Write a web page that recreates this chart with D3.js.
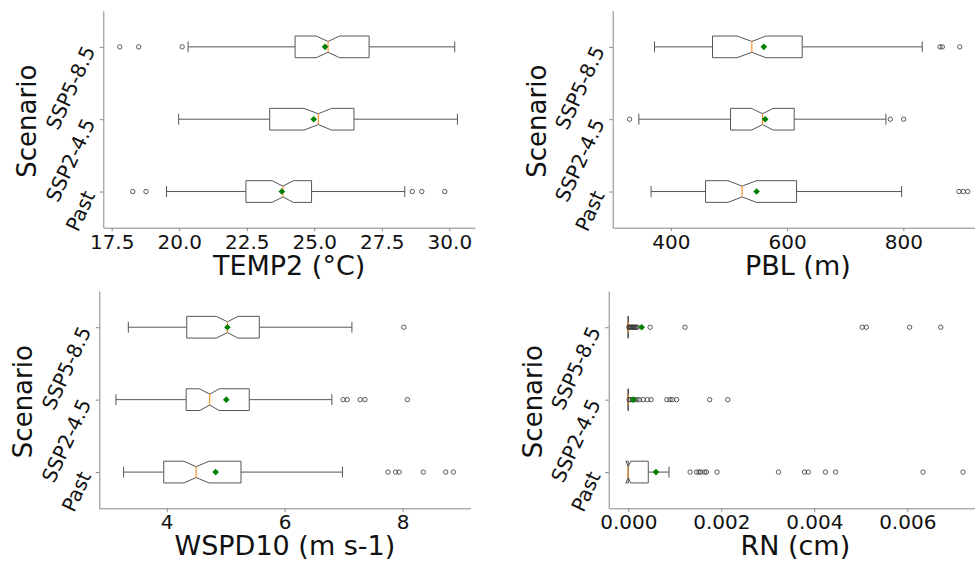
<!DOCTYPE html>
<html>
<head>
<meta charset="utf-8">
<script src="https://cdn.jsdelivr.net/npm/d3@7"></script>
<style>
  body { margin: 0; background: #fff; }
  svg { display: block; }
</style>
</head>
<body>
<svg id="chart" width="975" height="563"></svg>
<script>
// scenarios, bottom to top
var scenarios = ["Past", "SSP2-4.5", "SSP5-8.5"];

// box stats per scenario: [whisLo, q1, notchLo, median, notchHi, q3, whisHi, mean]
var temp2Stats = [
    [19.53, 22.47, 23.44, 23.84, 24.23, 24.90, 28.35, 23.80],
    [19.98, 23.35, 24.62, 25.15, 25.64, 26.47, 30.30, 24.98],
    [20.33, 24.29, 25.07, 25.51, 25.94, 27.03, 30.20, 25.40]
];
var temp2Fliers = [[18.28, 18.77, 28.63, 28.98, 29.83], [], [17.80, 18.50, 20.11]];
var temp2Ticks = [17.5, 20.0, 22.5, 25.0, 27.5, 30.0];
var temp2Limits = [17.19, 30.95];

var pblStats = [
    [366, 459.7, 498, 522.7, 547.5, 616.3, 797, 547.5],
    [345, 502.7, 538.8, 557.8, 576, 612.2, 770, 562.3],
    [371.9, 471.7, 514, 539.4, 563.5, 626, 832.5, 560]
];
var pblFliers = [[895.7, 903, 910.7], [329, 777.5, 800.5], [863, 867, 897]];
var pblTicks = [400, 600, 800];
var pblLimits = [300, 937];

var wspdStats = [
    [3.27, 3.95, 4.29, 4.50, 4.72, 5.26, 6.98, 4.83],
    [3.14, 4.33, 4.56, 4.73, 4.89, 5.40, 6.80, 5.01],
    [3.35, 4.34, 4.84, 5.03, 5.21, 5.57, 7.14, 5.03]
];
var wspdFliers = [
    [7.75, 7.88, 7.94, 8.35, 8.73, 8.86],
    [6.99, 7.06, 7.28, 7.36, 8.08],
    [8.02]
];
var wspdTicks = [4, 6, 8];
var wspdLimits = [2.858, 9.15];

var rnStats = [
    [0, 0, -0.00005, 0, 0.00005, 0.00043, 0.000875, 0.000596],
    [0, 0, 0, 0, 0, 0, 0, 0.000108],
    [0, 0, 0, 0, 0, 0, 0, 0.000288]
];
var rnFliers = [
    [0.00133, 0.00147, 0.00152, 0.00156, 0.00164, 0.00168, 0.00191, 0.00323, 0.00379,
     0.00387, 0.00424, 0.00446, 0.00634, 0.00720],
    [0.00002, 0.00005, 0.00009, 0.00014, 0.00019, 0.00024, 0.00032, 0.00041, 0.00049,
     0.00083, 0.00090, 0.00095, 0.00104, 0.00175, 0.00214],
    [0.00001, 0.00003, 0.00005, 0.00007, 0.00009, 0.00011, 0.00013, 0.00015, 0.00017,
     0.00020, 0.00047, 0.00122, 0.00503, 0.00512, 0.00605, 0.00672]
];
var rnTicks = [0.000, 0.002, 0.004, 0.006];
var rnLimits = [-0.000421, 0.007607];

var panels = [
    {stats: temp2Stats, fliers: temp2Fliers, ticks: temp2Ticks, limits: temp2Limits, fmt: ".1f",
     label: "TEMP2 (°C)", left: 103.3, right: 475, top: 10.7, bottom: 227.7},
    {stats: pblStats, fliers: pblFliers, ticks: pblTicks, limits: pblLimits, fmt: "d",
     label: "PBL (m)", left: 612.7, right: 983, top: 10.7, bottom: 227.7},
    {stats: wspdStats, fliers: wspdFliers, ticks: wspdTicks, limits: wspdLimits, fmt: "d",
     label: "WSPD10 (m s-1)", left: 99.3, right: 470.5, top: 291, bottom: 508.3},
    {stats: rnStats, fliers: rnFliers, ticks: rnTicks, limits: rnLimits, fmt: ".3f",
     label: "RN (cm)", left: 608.7, right: 982, top: 291, bottom: 508.3}
];

var svg = d3.select("#chart");
var boxColor = "#555", spineColor = "#888";
var font = "'DejaVu Sans', Verdana, sans-serif";

panels.forEach(function (p) {
    var x = d3.scaleLinear().domain(p.limits).range([p.left, p.right]);
    var y = d3.scalePoint().domain(scenarios.slice().reverse())
        .range([p.top, p.bottom]).padding(0.5);
    var hw = y.step() * 0.15;   // half box height

    var g = svg.append("g");

    // axes
    var xAxis = g.append("g")
        .attr("transform", "translate(0," + p.bottom + ")")
        .call(d3.axisBottom(x).tickValues(p.ticks).tickFormat(d3.format(p.fmt))
            .tickSize(3.5).tickSizeOuter(0).tickPadding(3.5));
    xAxis.selectAll("text")
        .attr("fill", "#111")
        .style("font-family", font)
        .style("font-size", "20px");

    var yAxis = g.append("g")
        .attr("transform", "translate(" + p.left + ",0)")
        .call(d3.axisLeft(y).tickSize(3.5).tickSizeOuter(0));
    yAxis.selectAll("text")
        .attr("x", null).attr("dy", null)
        .attr("text-anchor", "end")
        .attr("dominant-baseline", "central")
        .attr("transform", "translate(-14,0) rotate(-65)")
        .attr("fill", "#111")
        .style("font-family", font)
        .style("font-size", "20px");

    g.selectAll(".domain, .tick line").attr("stroke", spineColor);

    // axis labels
    g.append("text")
        .attr("x", (p.left + p.right) / 2)
        .attr("y", p.bottom + 47)
        .attr("text-anchor", "middle")
        .style("font-family", font)
        .style("font-size", "27px")
        .attr("fill", "#111")
        .text(p.label);

    g.append("text")
        .attr("transform", "translate(" + (p.left - 67) + "," + ((p.top + p.bottom) / 2 + 2) + ") rotate(-90)")
        .attr("text-anchor", "middle")
        .style("font-family", font)
        .style("font-size", "26px")
        .attr("fill", "#111")
        .text("Scenario");

    // boxes
    scenarios.forEach(function (sc, i) {
        var s = p.stats[i];
        var cy = y(sc);
        var whisLo = s[0], q1 = s[1], cLo = s[2], med = s[3], cHi = s[4], q3 = s[5], whisHi = s[6], mean = s[7];

        // whiskers
        g.append("line")
            .attr("x1", x(whisLo)).attr("x2", x(q1))
            .attr("y1", cy).attr("y2", cy)
            .attr("stroke", boxColor);
        g.append("line")
            .attr("x1", x(q3)).attr("x2", x(whisHi))
            .attr("y1", cy).attr("y2", cy)
            .attr("stroke", boxColor);
        // caps
        [whisLo, whisHi].forEach(function (v) {
            g.append("line")
                .attr("x1", x(v)).attr("x2", x(v))
                .attr("y1", cy - hw / 2).attr("y2", cy + hw / 2)
                .attr("stroke", boxColor);
        });

        // notched box
        var pts = [[q1, -hw], [q1, hw], [cLo, hw], [med, hw / 2], [cHi, hw], [q3, hw],
                   [q3, -hw], [cHi, -hw], [med, -hw / 2], [cLo, -hw], [q1, -hw]];
        g.append("path")
            .attr("d", d3.line().x(function (d) { return x(d[0]); })
                .y(function (d) { return cy + d[1]; })(pts) + "Z")
            .attr("fill", "#fff")
            .attr("stroke", boxColor);

        // median
        g.append("line")
            .attr("x1", x(med)).attr("x2", x(med))
            .attr("y1", cy - hw / 2).attr("y2", cy + hw / 2)
            .attr("stroke", "#ff7f0e");

        // fliers
        g.selectAll(null)
            .data(p.fliers[i]).enter()
            .append("circle")
            .attr("cx", function (d) { return x(d); })
            .attr("cy", cy)
            .attr("r", 2.2)
            .attr("fill", "none")
            .attr("stroke", "#333")
            .attr("stroke-width", 0.8);

        // mean
        g.append("path")
            .attr("d", d3.symbol(d3.symbolSquare, 22)())
            .attr("transform", "translate(" + x(mean) + "," + cy + ") rotate(45)")
            .attr("fill", "#008000");
    });
});
</script>
</body>
</html>
